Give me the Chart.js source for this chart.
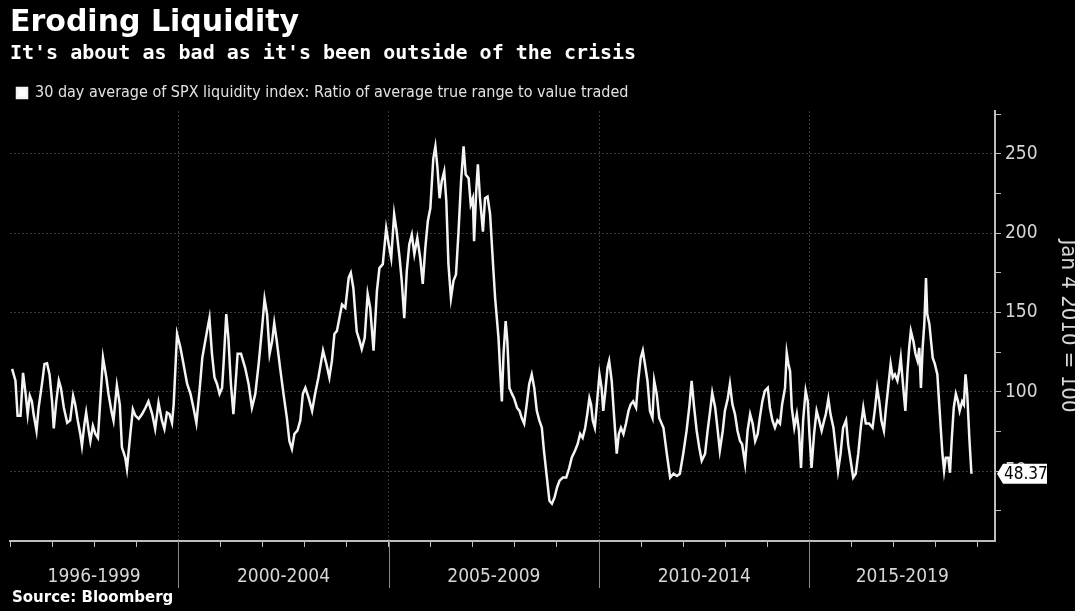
<!DOCTYPE html>
<html>
<head>
<meta charset="utf-8">
<title>Eroding Liquidity</title>
<script src="https://cdn.jsdelivr.net/npm/chart.js@4.4.0/dist/chart.umd.min.js"></script>
<style>
  html, body { margin: 0; padding: 0; background: #000; }
  #wrap { width: 1075px; height: 611px; position: relative; }
</style>
</head>
<body>
<div id="wrap"><canvas id="liquidity-chart"></canvas></div>
<script>
// 30 day average of the SPX liquidity index (decimal years)
var dates = [
    1996.05, 1996.13, 1996.18, 1996.25, 1996.31, 1996.37, 1996.42, 1996.47, 1996.52, 1996.56,
    1996.63, 1996.68, 1996.76, 1996.82, 1996.88, 1996.94, 1997.00, 1997.04, 1997.10, 1997.16,
    1997.21, 1997.28, 1997.36, 1997.43, 1997.50, 1997.55, 1997.61, 1997.67, 1997.71, 1997.77,
    1997.81, 1997.87, 1997.91, 1997.97, 1998.03, 1998.09, 1998.21, 1998.29, 1998.34, 1998.41,
    1998.46, 1998.54, 1998.61, 1998.66, 1998.74, 1998.78, 1998.86, 1998.92, 1998.98, 1999.06,
    1999.14, 1999.22, 1999.29, 1999.38, 1999.45, 1999.53, 1999.61, 1999.67, 1999.73, 1999.79,
    1999.85, 1999.89, 1999.97, 2000.05, 2000.11, 2000.21, 2000.29, 2000.36, 2000.43, 2000.51,
    2000.57, 2000.67, 2000.74, 2000.80, 2000.86, 2000.92, 2000.98, 2001.04, 2001.08, 2001.14,
    2001.19, 2001.25, 2001.31, 2001.41, 2001.49, 2001.59, 2001.67, 2001.75, 2001.83, 2001.91,
    2001.99, 2002.05, 2002.11, 2002.17, 2002.23, 2002.28, 2002.34, 2002.42, 2002.50, 2002.58,
    2002.64, 2002.70, 2002.76, 2002.83, 2002.90, 2002.96, 2003.02, 2003.10, 2003.18, 2003.25,
    2003.33, 2003.44, 2003.52, 2003.59, 2003.65, 2003.71, 2003.77, 2003.89, 2003.97, 2004.05,
    2004.10, 2004.16, 2004.24, 2004.31, 2004.36, 2004.43, 2004.50, 2004.56, 2004.64, 2004.72,
    2004.78, 2004.86, 2004.94, 2005.00, 2005.06, 2005.13, 2005.19, 2005.26, 2005.31, 2005.37,
    2005.43, 2005.49, 2005.55, 2005.61, 2005.68, 2005.75, 2005.81, 2005.87, 2005.93, 2005.99,
    2006.06, 2006.11, 2006.16, 2006.21, 2006.26, 2006.32, 2006.37, 2006.42, 2006.48, 2006.54,
    2006.60, 2006.66, 2006.72, 2006.78, 2006.83, 2006.90, 2006.95, 2007.00, 2007.03, 2007.08,
    2007.12, 2007.17, 2007.24, 2007.29, 2007.35, 2007.41, 2007.48, 2007.53, 2007.61, 2007.65,
    2007.69, 2007.73, 2007.78, 2007.82, 2007.87, 2007.93, 2007.98, 2008.05, 2008.11, 2008.16,
    2008.22, 2008.28, 2008.34, 2008.40, 2008.46, 2008.52, 2008.58, 2008.64, 2008.69, 2008.76,
    2008.82, 2008.88, 2008.94, 2009.00, 2009.06, 2009.14, 2009.22, 2009.29, 2009.35, 2009.43,
    2009.49, 2009.55, 2009.61, 2009.67, 2009.72, 2009.77, 2009.81, 2009.85, 2009.90, 2009.96,
    2010.01, 2010.06, 2010.10, 2010.15, 2010.20, 2010.24, 2010.30, 2010.36, 2010.42, 2010.47,
    2010.52, 2010.58, 2010.64, 2010.70, 2010.75, 2010.81, 2010.88, 2010.93, 2010.99, 2011.04,
    2011.09, 2011.15, 2011.21, 2011.27, 2011.31, 2011.37, 2011.43, 2011.53, 2011.61, 2011.69,
    2011.77, 2011.85, 2011.92, 2012.00, 2012.08, 2012.15, 2012.20, 2012.26, 2012.32, 2012.38,
    2012.44, 2012.52, 2012.58, 2012.64, 2012.69, 2012.76, 2012.82, 2012.87, 2012.94, 2012.99,
    2013.06, 2013.11, 2013.17, 2013.23, 2013.29, 2013.35, 2013.40, 2013.47, 2013.53, 2013.59,
    2013.65, 2013.71, 2013.77, 2013.82, 2013.88, 2013.94, 2014.01, 2014.06, 2014.12, 2014.18,
    2014.24, 2014.30, 2014.35, 2014.42, 2014.46, 2014.50, 2014.54, 2014.58, 2014.64, 2014.70,
    2014.75, 2014.80, 2014.85, 2014.91, 2014.96, 2015.00, 2015.05, 2015.11, 2015.17, 2015.23,
    2015.29, 2015.35, 2015.39, 2015.45, 2015.50, 2015.57, 2015.63, 2015.68, 2015.74, 2015.80,
    2015.87, 2015.92, 2015.98, 2016.04, 2016.10, 2016.16, 2016.22, 2016.28, 2016.34, 2016.42,
    2016.50, 2016.56, 2016.61, 2016.66, 2016.71, 2016.77, 2016.82, 2016.87, 2016.93, 2016.98,
    2017.03, 2017.09, 2017.13, 2017.17, 2017.23, 2017.28, 2017.33, 2017.37, 2017.41, 2017.47,
    2017.52, 2017.57, 2017.61, 2017.65, 2017.69, 2017.73, 2017.77, 2017.80, 2017.85, 2017.89,
    2017.93, 2017.98, 2018.04, 2018.08, 2018.12, 2018.16, 2018.20, 2018.24, 2018.30, 2018.34,
    2018.38, 2018.43, 2018.48, 2018.53, 2018.57, 2018.63, 2018.67, 2018.71, 2018.75, 2018.80,
    2018.85,
];
var liquidity = [
    114.5, 107, 85, 85, 112, 99, 86, 97.5, 94, 86,
    75.5, 90, 105, 117.6, 118, 111, 94, 77, 94, 107,
    102.5, 90, 80.5, 82, 97.5, 92, 82, 73.5, 66, 80,
    87, 75.5, 69, 78.6, 73.5, 71, 121.6, 109, 98.7, 88,
    82, 104, 92, 65, 58.5, 51.5, 73.5, 89, 85, 83,
    86, 90, 94, 86, 76.7, 93, 82, 76.7, 87, 86,
    80.5, 92, 136.5, 128, 119.5, 105, 98.7, 90, 80.5, 102.5,
    121.4, 136.5, 146.5, 124, 109, 105, 98.7, 102.5, 119.5, 149,
    134, 105, 86, 124, 124, 115, 105, 90, 98.7, 117.6,
    140, 158.5, 149, 124, 132, 143.4, 132, 115, 98.7, 83.6,
    69, 64, 73.5, 75.5, 82, 98.7, 102.5, 96, 88, 98.7,
    109, 126, 117.6, 109, 119.5, 136.5, 138.4, 155, 153, 172,
    175, 165.5, 138, 132, 127, 134, 161.6, 153, 126, 163.5,
    178, 180.5, 203, 193, 184.3, 212, 201, 184.3, 170, 146.5,
    176, 193, 199, 186.8, 197, 184.3, 168, 190.6, 207.5, 215.7,
    247, 254.7, 241, 222, 232.7, 239, 220, 180.5, 159, 170,
    174, 201, 232.7, 254.7, 237, 234.6, 218, 222, 195, 226.4,
    243.4, 222, 201, 222, 223, 212, 180.5, 159, 134, 113,
    94, 124, 144.6, 132, 102.5, 98.7, 96, 90, 88, 83.6,
    80, 92, 105, 111, 102.5, 88, 82, 77.4, 63, 46,
    31.4, 29.5, 33.3, 39.6, 44, 46, 46, 52, 58.5, 63,
    67, 73.5, 71, 77.4, 86, 96, 92, 82, 77.4, 96,
    111, 102.5, 88, 100.6, 115, 119.5, 107, 83.6, 61, 73.5,
    77.4, 73.5, 80, 88, 92, 94, 90, 107, 121.4, 126,
    117.6, 107, 88, 83.6, 107, 98.7, 83.6, 77.4, 61, 46,
    48.4, 47, 48.4, 61, 75.5, 92, 107, 90, 75.5, 65,
    56.6, 61, 75.5, 88, 99.4, 90, 75.5, 63, 75.5, 88,
    96, 105, 92, 86, 75.5, 69, 67, 54.7, 75.5, 86,
    80, 69, 73.5, 83.6, 94, 100.6, 102.5, 90, 82, 77.4,
    82, 80, 92, 102.5, 124.5, 117.6, 113, 90, 77.4, 86,
    75.5, 52, 82, 100.6, 94, 73.5, 52, 73.5, 88, 82,
    75.5, 82, 86, 95.6, 86, 77.4, 63, 50.3, 61, 77.4,
    82, 67, 56.6, 46, 48.4, 61, 77.4, 90, 80, 80,
    77.4, 90, 102.5, 94, 82, 75.5, 90, 102.5, 117.6, 109,
    111, 107, 113, 121.4, 102.5, 88, 113, 127.7, 138.4, 132,
    124, 119.5, 127.7, 102.5, 127.7, 142.8, 171.7, 149, 142.8, 132,
    121.4, 117.6, 111, 94, 77.4, 61, 50.3, 58.5, 58.5, 49,
    69, 90, 98.7, 94, 88, 94, 92, 111, 98.7, 71,
    48.37,
];

// x axis periods and their labels
var periodStarts = [1996, 2000, 2005, 2010, 2015];
var periodEnds = [2000, 2005, 2010, 2015, 2019.41];
var periodLabels = ["1996-1999", "2000-2004", "2005-2009", "2010-2014", "2015-2019"];

var seriesLabel = "30 day average of SPX liquidity index: Ratio of average true range to value traded";
var axisTitle = "Jan 4 2010 = 100";
var sourceText = "Source: Bloomberg";

var points = dates.map((d, i) => ({ x: d, y: liquidity[i] }));
var lastValue = liquidity[liquidity.length - 1];

var faintGrid = "#3a3a3a";
var axisColor = "#bdbdbd";
var labelFont = "'Liberation Sans Narrow', 'DejaVu Sans Condensed', 'Liberation Sans', sans-serif";

// extra bits drawn on top: period separators + labels, source, last value tag
var extrasPlugin = {
    id: "extras",
    afterDraw(chart) {
        var ctx = chart.ctx;
        var xs = chart.scales.x;
        var ys = chart.scales.y;
        var area = chart.chartArea;
        ctx.save();

        // long separators between periods
        ctx.strokeStyle = "#8a8a8a";
        ctx.lineWidth = 1;
        periodStarts.slice(1).forEach((yr) => {
            var px = Math.round(xs.getPixelForValue(yr)) + 0.5;
            ctx.beginPath();
            ctx.moveTo(px, area.bottom);
            ctx.lineTo(px, area.bottom + 47);
            ctx.stroke();
        });

        // period labels
        ctx.fillStyle = "#d6d6d6";
        ctx.font = "19px " + labelFont;
        ctx.textAlign = "center";
        ctx.textBaseline = "middle";
        periodLabels.forEach((lab, i) => {
            var mid = xs.getPixelForValue((periodStarts[i] + periodEnds[i]) / 2);
            ctx.fillText(lab, mid, area.bottom + 36);
        });

        // source line
        ctx.fillStyle = "#ffffff";
        ctx.font = "bold 15px 'DejaVu Sans', sans-serif";
        ctx.textAlign = "left";
        ctx.fillText(sourceText, 12, 598);

        // last value tag on the right axis
        var py = ys.getPixelForValue(lastValue);
        var bx = area.right + 8;
        var bw = 44;
        var bh = 20;
        ctx.fillStyle = "#ffffff";
        ctx.beginPath();
        ctx.moveTo(area.right + 2, py);
        ctx.lineTo(bx, py - bh / 2);
        ctx.lineTo(bx + bw, py - bh / 2);
        ctx.lineTo(bx + bw, py + bh / 2);
        ctx.lineTo(bx, py + bh / 2);
        ctx.closePath();
        ctx.fill();
        ctx.fillStyle = "#000000";
        ctx.font = "17px " + labelFont;
        ctx.textAlign = "left";
        ctx.fillText(lastValue.toFixed(2), bx + 1, py + 1);
        ctx.restore();
    },
};

var liquidityChart = new Chart(document.getElementById("liquidity-chart").getContext("2d"), {
    type: "line",
    data: {
        datasets: [
            {
                label: seriesLabel,
                data: points,
                borderColor: "#f4f4f4",
                backgroundColor: "#ffffff",
                borderWidth: 2.5,
                pointRadius: 0,
                tension: 0,
            },
        ],
    },
    options: {
        responsive: true,
        maintainAspectRatio: false,
        animation: false,
        layout: { padding: { left: 10, right: 0, top: 0, bottom: 0 } },
        plugins: {
            title: {
                display: true,
                text: "Eroding Liquidity",
                align: "start",
                color: "#ffffff",
                font: { family: "'DejaVu Sans', sans-serif", size: 30, weight: "bold", lineHeight: 1.2 },
                padding: { top: 5, bottom: 0 },
            },
            subtitle: {
                display: true,
                text: "It's about as bad as it's been outside of the crisis",
                align: "start",
                color: "#ffffff",
                font: { family: "'DejaVu Sans Mono', monospace", size: 20, weight: "bold", lineHeight: 1.2 },
                padding: { top: 1, bottom: 12 },
            },
            legend: {
                display: true,
                align: "start",
                labels: {
                    color: "#e2e2e2",
                    boxWidth: 10,
                    boxHeight: 10,
                    padding: 7,
                    font: { family: labelFont, size: 16 },
                },
            },
            tooltip: { enabled: false },
        },
        scales: {
            x: {
                type: "linear",
                min: 1996,
                max: 2019.41,
                afterFit(scale) {
                    scale.height = 70;
                },
                ticks: {
                    stepSize: 1,
                    autoSkip: false,
                    includeBounds: false,
                    callback: () => "",
                },
                grid: {
                    drawOnChartArea: true,
                    color: (c) => (c.tick && c.tick.value % 5 === 0 && c.tick.value !== 1996 ? faintGrid : "rgba(0,0,0,0)"),
                    tickColor: axisColor,
                    tickLength: 6,
                },
                border: { display: true, color: axisColor, width: 2, dash: [2, 2] },
            },
            y: {
                position: "right",
                min: 6,
                max: 277,
                afterFit(scale) {
                    scale.width = 80;
                },
                ticks: {
                    stepSize: 25,
                    autoSkip: false,
                    includeBounds: false,
                    color: "#d6d6d6",
                    padding: 4,
                    font: { family: labelFont, size: 19 },
                    callback: (v) => (v % 50 === 0 ? v : ""),
                },
                grid: {
                    drawOnChartArea: true,
                    color: (c) => (c.tick && c.tick.value % 50 === 0 ? faintGrid : "rgba(0,0,0,0)"),
                    tickColor: axisColor,
                    tickLength: 6,
                },
                border: { display: true, color: axisColor, width: 2, dash: [2, 2] },
                title: {
                    display: true,
                    text: axisTitle,
                    color: "#d6d6d6",
                    font: { family: labelFont, size: 22 },
                    padding: { top: -6, bottom: 0 },
                },
            },
        },
    },
    plugins: [extrasPlugin],
});
</script>
</body>
</html>
